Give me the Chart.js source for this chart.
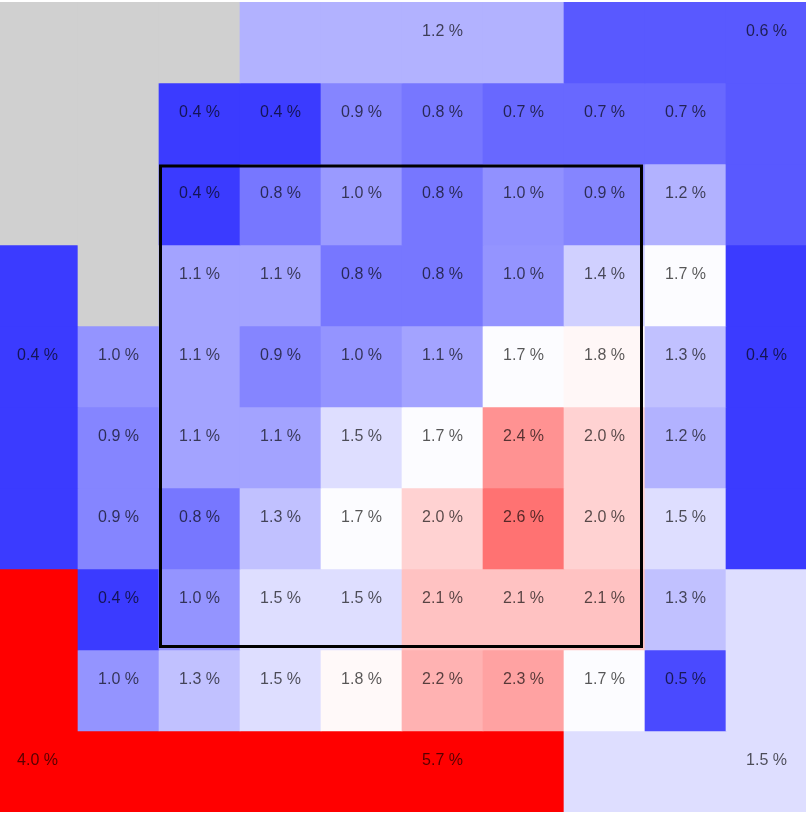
<!DOCTYPE html>
<html>
<head>
<meta charset="utf-8">
<script src="https://cdn.jsdelivr.net/npm/chart.js@4.4.0/dist/chart.umd.min.js"></script>
<style>
  html, body { margin: 0; padding: 0; background: #fff; overflow: hidden; }
  #wrap { position: absolute; left: -3px; top: 2px; width: 810px; height: 810px; }
</style>
</head>
<body>
<div id="wrap"><canvas id="grid" width="810" height="810"></canvas></div>
<script>
// cell values in %, rows top to bottom, null = no data (gray)
var row0 = [null, null, null, 1.2, 1.2, 1.2, 1.2, 0.6, 0.6, 0.6];
var row1 = [null, null, 0.4, 0.4, 0.9, 0.8, 0.7, 0.7, 0.7, 0.6];
var row2 = [null, null, 0.4, 0.8, 1.04, 0.8, 0.98, 0.9, 1.2, 0.6];
var row3 = [0.4, null, 1.1, 1.1, 0.8, 0.8, 1.0, 1.4, 1.7, 0.4];
var row4 = [0.4, 1.0, 1.1, 0.9, 1.0, 1.1, 1.7, 1.77, 1.3, 0.4];
var row5 = [0.4, 0.9, 1.1, 1.1, 1.5, 1.7, 2.4, 2.0, 1.2, 0.4];
var row6 = [0.4, 0.9, 0.8, 1.3, 1.7, 2.0, 2.6, 2.0, 1.5, 0.4];
var row7 = [4.0, 0.4, 1.0, 1.5, 1.5, 2.1, 2.1, 2.1, 1.3, 1.5];
var row8 = [4.0, 1.0, 1.3, 1.5, 1.76, 2.2, 2.3, 1.7, 0.5, 1.5];
var row9 = [4.0, 5.7, 5.7, 5.7, 5.7, 5.7, 5.7, 1.5, 1.5, 1.5];
var rows = [row0, row1, row2, row3, row4, row5, row6, row7, row8, row9];

// which cells carry a text label (merged areas show it once)
var labelMask = [
  '0000010001',
  '0011111110',
  '0011111110',
  '0011111110',
  '1111111111',
  '0111111110',
  '0111111110',
  '0111111110',
  '0111111110',
  '1000010001'
];

var columns = ['c0', 'c1', 'c2', 'c3', 'c4', 'c5', 'c6', 'c7', 'c8', 'c9'];

function cellColor(v) {
  if (v === null) return '#d0d0d0';
  var c;
  if (v < 1.72) {
    c = Math.round(255 * v / 1.72);
    return 'rgb(' + c + ',' + c + ',255)';
  }
  c = Math.max(0, Math.round(255 - 160 * (v - 1.72)));
  return 'rgb(255,' + c + ',' + c + ')';
}

var datasets = rows.map(function (vals, r) {
  return {
    label: 'row ' + r,
    data: vals.map(function () { return [r, r + 1]; }),
    backgroundColor: vals.map(cellColor),
    borderWidth: 0,
    barPercentage: 1,
    categoryPercentage: 1,
    grouped: false
  };
});

var cellLabels = {
  id: 'cellLabels',
  afterDatasetsDraw: function (chart) {
    var ctx = chart.ctx;
    var xs = chart.scales.x, ys = chart.scales.y;
    var w = xs.width / columns.length;
    ctx.save();
    ctx.font = '16px "Liberation Sans", Arial, sans-serif';
    ctx.fillStyle = 'rgba(0,0,0,0.66)';
    ctx.textAlign = 'center';
    ctx.textBaseline = 'middle';
    rows.forEach(function (vals, r) {
      vals.forEach(function (v, c) {
        if (labelMask[r][c] !== '1' || v === null) return;
        ctx.fillText(v.toFixed(1) + ' %', xs.getPixelForValue(c), ys.getPixelForValue(r + 0.36));
      });
    });
    // highlighted block, columns 2-7 and rows 2-7
    var left = xs.getPixelForValue(2) - w / 2 + 1.5;
    var right = xs.getPixelForValue(7) + w / 2 - 3.5;
    var top = ys.getPixelForValue(2) + 2;
    var bottom = ys.getPixelForValue(8) - 3.5;
    ctx.strokeStyle = '#000';
    ctx.lineWidth = 3;
    ctx.strokeRect(left, top, right - left, bottom - top);
    ctx.restore();
  }
};

var ctx = document.getElementById('grid').getContext('2d');
var myChart = new Chart(ctx, {
  type: 'bar',
  data: { labels: columns, datasets: datasets },
  options: {
    responsive: false,
    animation: false,
    layout: { padding: 0 },
    plugins: { legend: { display: false }, tooltip: { enabled: false } },
    scales: {
      x: { display: false },
      y: { display: false, min: 0, max: 10, reverse: true }
    }
  },
  plugins: [cellLabels]
});
</script>
</body>
</html>
